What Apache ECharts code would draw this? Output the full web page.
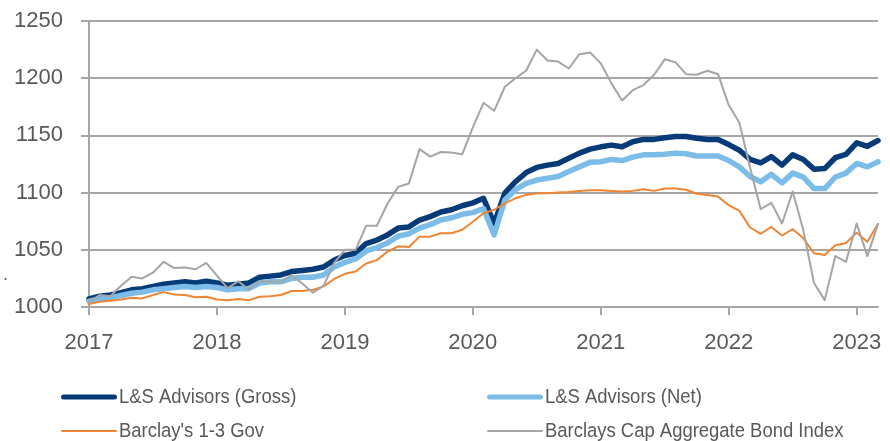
<!DOCTYPE html>
<html style="height: 100%">
<head>
    <meta charset="utf-8">
    <script type="text/javascript" src="https://cdn.jsdelivr.net/npm/echarts@6/dist/echarts.min.js"></script>
</head>
<body style="height: 100%; margin: 0; background: #fff">
<div id="container" style="width: 890px; height: 441px"></div>
<script type="text/javascript">
    // monthly points, Jan 2017 .. Mar 2023
    var years = [2017, 2018, 2019, 2020, 2021, 2022, 2023];
    var lastMonth = 3; // data stops in March 2023

    var gross = [
        1007, 1009.5, 1010.5, 1012.5, 1015, 1016, 1018, 1020, 1021, 1022, 1021, 1022.5,
        1021, 1019, 1020, 1021, 1026, 1027, 1028, 1031, 1032, 1033, 1035, 1041,
        1045, 1047, 1055.5, 1058.5, 1063, 1069, 1070, 1076, 1079, 1083, 1085, 1088.5,
        1091, 1095, 1073, 1099.5, 1109.5, 1117.5, 1122, 1124, 1125.5, 1130, 1134.5, 1138,
        1140, 1141.5, 1140, 1144.5, 1146.5, 1146.5, 1148, 1149, 1149, 1147.5, 1146.5, 1146.5,
        1142, 1137, 1129, 1126, 1131.5, 1124, 1133, 1129, 1120.5, 1121, 1130.5, 1133.5,
        1143.5, 1140.5, 1145.5
    ];
    var net = [
        1005, 1007, 1008, 1010, 1012, 1013, 1015, 1016, 1017, 1018, 1017, 1018,
        1017, 1015, 1016, 1016, 1021, 1022, 1022, 1025, 1026, 1026, 1028, 1035,
        1039, 1042, 1049, 1052, 1056, 1062, 1064, 1069, 1072, 1076, 1078, 1081,
        1082.5, 1086, 1063, 1093.5, 1102.5, 1108, 1111, 1112.5, 1114, 1118.5, 1122.5, 1126.5,
        1127, 1129, 1128, 1131, 1133, 1133, 1133.5, 1134.5, 1134, 1132, 1132, 1132,
        1128, 1122.5, 1114, 1109.5, 1116, 1108.5, 1117, 1113.5, 1103.5, 1103.5, 1113.5, 1117,
        1125.5, 1122.5, 1127
    ];
    var gov13 = [
        1002.5, 1004.5, 1005.5, 1006.5, 1008, 1007.5, 1010.5, 1013, 1011, 1010.5, 1008.5, 1009,
        1006.5, 1006, 1007, 1006, 1009, 1009.5, 1010.5, 1014, 1014, 1015, 1018, 1024.5,
        1029, 1031, 1038, 1041, 1048.5, 1053, 1052.5, 1061.5, 1061.5, 1064.5, 1064.5, 1067.5,
        1074.5, 1082, 1085, 1090.5, 1095, 1098, 1099.5, 1099.5, 1100, 1100.5, 1101.5, 1102,
        1102, 1101.5, 1101, 1101.5, 1103, 1101.5, 1103.5, 1103.5, 1102.5, 1099, 1098, 1096.5,
        1089, 1084, 1069.5, 1064, 1070, 1062.5, 1068, 1060, 1047, 1045.5, 1054, 1056,
        1065, 1057, 1072.5
    ];
    var aggBond = [
        1004.5, 1010.5, 1009.5, 1018.5, 1026.5, 1025, 1030, 1039.5, 1034, 1034.5, 1033, 1038.5,
        1027.5, 1016.5, 1022.5, 1015, 1022.5, 1022, 1022, 1028, 1020.5, 1012.5, 1018.5, 1038.5,
        1050, 1050, 1071, 1071, 1090.5, 1105, 1108, 1138, 1131.5, 1135.5, 1135, 1133.5,
        1157, 1178.5, 1171.5, 1192.5, 1200, 1206.5, 1225, 1215.5, 1214.5, 1208.5, 1221, 1222.5,
        1213, 1195.5, 1180.5, 1189.5, 1194, 1203, 1216.5, 1214, 1203.5, 1203, 1206.5, 1203.5,
        1176.5, 1161, 1122, 1085.5, 1091, 1073, 1101, 1067, 1021, 1006, 1044.5, 1039.5,
        1073, 1044.5, 1072.5
    ];

    var names = ['L&S Advisors (Gross)', 'L&S Advisors (Net)', "Barclay's 1-3 Gov", 'Barclays Cap Aggregate Bond Index'];
    var colors = ['#073b78', '#7cbce9', '#ef8533', '#a5a5a5'];
    var widths = [5.5, 5.5, 2, 2];

    var months = [];
    years.forEach(function (y) {
        for (var m = 1; m <= 12; m++) {
            if (y === years[years.length - 1] && m > lastMonth) break;
            months.push(y + '-' + (m < 10 ? '0' + m : m));
        }
    });

    var dom = document.getElementById('container');
    var myChart = echarts.init(dom, null, {renderer: 'canvas'});
    var labelFont = '"Liberation Sans", Arial, sans-serif';

    // legend drawn by hand: the original uses a narrower font, so the text is squeezed a bit
    var legendSpots = [[61, 397], [487, 397], [61, 431], [487, 431]];
    var legendItems = names.map(function (n, i) {
        var h = widths[i] > 3 ? 5 : 2;
        return {
            type: 'group',
            x: legendSpots[i][0],
            y: legendSpots[i][1],
            children: [{
                type: 'rect',
                shape: {x: 0, y: -h / 2, width: 56, height: h, r: h / 2},
                style: {fill: colors[i]}
            }, {
                type: 'text',
                x: 58,
                y: 0,
                scaleX: 0.9,
                style: {
                    text: n,
                    fill: '#595959',
                    font: '20.5px ' + labelFont,
                    verticalAlign: 'middle'
                }
            }]
        };
    });

    function lineSeries(i, data) {
        return {
            name: names[i],
            type: 'line',
            data: data,
            symbol: 'none',
            color: colors[i],
            lineStyle: {width: widths[i], color: colors[i], join: 'round', cap: 'round'},
            animation: false
        };
    }

    var option = {
        animation: false,
        grid: {left: 89, right: 12, top: 21, bottom: 134},
        graphic: [{
            type: 'text', left: 3, top: 266,
            style: {text: '.', fill: '#595959', font: '18px ' + labelFont}
        }].concat(legendItems),
        xAxis: {
            type: 'category',
            data: months,
            boundaryGap: false,
            axisLine: {lineStyle: {color: '#a6a6a6', width: 2}},
            axisTick: {show: true, interval: 11, length: 8, lineStyle: {color: '#a6a6a6', width: 2}},
            axisLabel: {
                interval: 11,
                margin: 25,
                color: '#595959',
                fontSize: 22,
                fontFamily: labelFont,
                formatter: function (v) { return v.slice(0, 4); }
            },
            splitLine: {show: false}
        },
        yAxis: {
            type: 'value',
            min: 1000,
            max: 1250,
            interval: 50,
            axisLine: {show: true, lineStyle: {color: '#a6a6a6', width: 2}},
            axisTick: {show: true, length: 8, lineStyle: {color: '#a6a6a6', width: 2}},
            axisLabel: {
                margin: 26, color: '#595959', fontSize: 22, fontFamily: labelFont,
                formatter: function (v) { return String(v); }
            },
            splitLine: {lineStyle: {color: '#a6a6a6', width: 2}}
        },
        series: [
            lineSeries(0, gross),
            lineSeries(1, net),
            lineSeries(2, gov13),
            lineSeries(3, aggBond)
        ]
    };

    myChart.setOption(option);
</script>
</body>
</html>
